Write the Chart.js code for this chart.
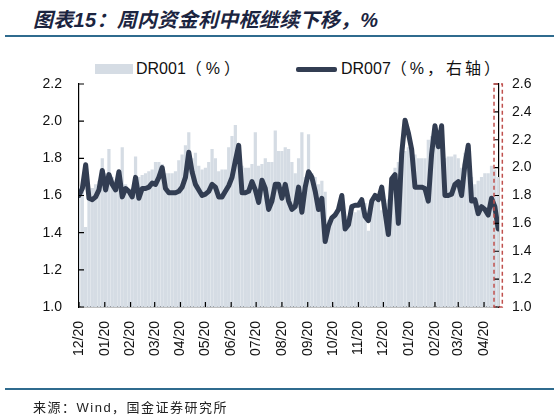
<!DOCTYPE html>
<html>
<head>
<meta charset="utf-8">
<script src="https://cdn.jsdelivr.net/npm/chart.js@4.4.0/dist/chart.umd.min.js"></script>
<style>
  body { margin: 0; width: 559px; height: 416px; background: #fff; position: relative; overflow: hidden;
         font-family: "Liberation Sans", "Noto Sans CJK SC", sans-serif; }
  #title { position: absolute; left: 33px; top: 4px; font: italic bold 20px "Liberation Sans", "Noto Sans CJK SC", sans-serif; color: #1b2440; white-space: nowrap; letter-spacing: 0.3px; }
  .rule { position: absolute; left: 5px; width: 549px; height: 2px; background: #2f6b8e; }
  .sw { position: absolute; }
  .lgtext { position: absolute; font-size: 16px; color: #111; white-space: nowrap; line-height: 18px; }
  .cjk { letter-spacing: 3px; }
  #source { position: absolute; left: 33px; top: 397px; font-size: 13px; color: #222; letter-spacing: 1.5px; white-space: nowrap; }
  #wrap { position: absolute; left: 0; top: 0; width: 559px; height: 416px; }
</style>
</head>
<body>
<div id="title">图表15：周内资金利中枢继续下移，%</div>
<div class="rule" style="top:35px"></div>

<div class="sw" style="left:95px;top:64px;width:38px;height:10px;background:#d5dce4"></div>
<div class="lgtext" style="left:136px;top:60px">DR001<span class="cjk" style="letter-spacing:4px">（%）</span></div>
<div class="sw" style="left:296px;top:67px;width:41px;height:5px;border-radius:2px;background:#323d52"></div>
<div class="lgtext" style="left:341px;top:60px">DR007<span class="cjk">（%，右轴）</span></div>

<div id="wrap"><canvas id="chart"></canvas></div>

<div class="rule" style="top:388px"></div>
<div id="source">来源：Wind，国金证券研究所</div>

<script>
// sampled every 4 calendar days starting 2019-12-20
var sampleStep = 4;
var dr001 = [1.65,1.62,1.43,1.62,1.64,1.66,1.68,1.80,1.72,1.85,
  1.70,1.68,1.72,1.86,1.66,1.63,1.64,1.81,1.70,1.71,
  1.72,1.73,1.74,1.78,1.78,1.77,1.72,1.72,1.72,1.73,
  1.79,1.82,1.87,1.94,1.80,1.83,1.76,1.74,1.75,1.78,
  1.85,1.80,1.73,1.74,1.74,1.86,1.92,1.98,1.79,1.76,
  1.75,1.75,1.77,1.94,1.76,1.77,1.80,1.78,1.78,1.95,
  1.84,1.84,1.86,1.85,1.78,1.72,1.80,1.94,1.70,1.93,
  1.72,1.70,1.66,1.68,1.62,1.47,1.48,1.51,1.52,1.55,
  1.46,1.49,1.50,1.51,1.52,1.57,1.56,1.41,1.57,1.59,
  1.60,1.52,1.56,1.58,1.60,1.75,1.78,1.81,1.84,1.86,
  1.85,1.82,1.80,1.80,1.80,1.90,1.92,1.88,1.95,1.90,
  1.80,1.81,1.81,1.82,1.80,1.75,1.83,1.85,1.70,1.66,
  1.68,1.70,1.72,1.72,1.76,1.74,1.70];
var dr007 = [1.80,1.85,2.02,1.78,1.77,1.79,1.84,1.98,1.84,1.95,
  1.88,1.84,1.97,1.79,1.85,1.83,1.79,1.93,1.78,1.85,
  1.85,1.86,1.89,1.88,1.93,2.00,1.85,1.82,1.82,1.82,
  1.83,1.86,1.93,2.11,1.97,1.88,1.84,1.80,1.81,1.83,
  1.88,1.86,1.79,1.79,1.83,1.87,1.93,2.05,2.16,1.82,
  1.82,1.83,1.90,1.84,1.75,1.91,1.85,1.70,1.76,1.88,
  1.88,1.78,1.88,1.76,1.70,1.72,1.86,1.68,1.86,1.97,
  1.93,1.83,1.70,1.78,1.47,1.58,1.64,1.66,1.70,1.80,
  1.56,1.59,1.72,1.73,1.73,1.77,1.65,1.62,1.76,1.80,
  1.77,1.86,1.68,1.52,1.92,1.95,1.60,2.10,2.34,2.25,
  2.13,1.86,1.86,1.86,1.85,1.76,2.10,2.30,2.15,2.30,
  1.80,1.80,1.81,1.88,1.90,1.80,2.02,2.16,1.76,1.77,
  1.67,1.72,1.70,1.66,1.78,1.72,1.56];

// x tick positions (days since 2019-12-20) and their labels
var tickDays = [0,31,62,91,122,152,183,213,244,275,305,336,366,397,428,456,487];
var tickLabels = ["12/20","01/20","02/20","03/20","04/20","05/20","06/20","07/20","08/20",
  "09/20","10/20","11/20","12/20","01/20","02/20","03/20","04/20"];
var lastDay = 505;
var highlightDays = [499, 509];

var days = dr001.map(function(v, i){ return i * sampleStep; });

// inner tick marks + red dashed box
var extras = {
  id: 'extras',
  afterDraw: function(chart){
    var ctx = chart.ctx, a = chart.chartArea;
    var sx = chart.scales.x, sy = chart.scales.y, sy1 = chart.scales.y1;
    ctx.save();
    ctx.strokeStyle = '#000';
    ctx.lineWidth = 1.2;
    ctx.beginPath();
    sy.ticks.forEach(function(t){ var p = sy.getPixelForValue(t.value); ctx.moveTo(a.left, p); ctx.lineTo(a.left + 5, p); });
    sy1.ticks.forEach(function(t){ var p = sy1.getPixelForValue(t.value); ctx.moveTo(a.right, p); ctx.lineTo(a.right - 5, p); });
    sx.ticks.forEach(function(t){ var p = sx.getPixelForValue(t.value); ctx.moveTo(p, a.bottom); ctx.lineTo(p, a.bottom - 5); });
    ctx.stroke();
    var l = sx.getPixelForValue(highlightDays[0]), r = sx.getPixelForValue(highlightDays[1]);
    ctx.setLineDash([4, 3]);
    ctx.strokeStyle = '#c0504d';
    ctx.lineWidth = 1.5;
    ctx.strokeRect(l, a.top, r - l, a.bottom - a.top);
    ctx.restore();
  }
};

var tickFont = {family: '"Liberation Sans", Arial, sans-serif', size: 14};

new Chart(document.getElementById('chart'), {
  type: 'bar',
  data: {
    datasets: [{
      type: 'line',
      label: 'DR007（%，右轴）',
      data: days.map(function(d, i){ return {x: d, y: dr007[i]}; }),
      yAxisID: 'y1',
      borderColor: '#323d52',
      borderWidth: 5,
      borderJoinStyle: 'round',
      borderCapStyle: 'round',
      pointRadius: 0,
      tension: 0,
      order: 0
    }, {
      type: 'bar',
      label: 'DR001（%）',
      data: days.map(function(d, i){ return {x: d, y: dr001[i]}; }),
      yAxisID: 'y',
      backgroundColor: '#d5dce4',
      barPercentage: 0.97,
      categoryPercentage: 1,
      order: 1
    }]
  },
  options: {
    responsive: true,
    maintainAspectRatio: false,
    animation: false,
    layout: {padding: {top: 84, left: 0, right: 0, bottom: 39}},
    plugins: {legend: {display: false}, tooltip: {enabled: false}},
    scales: {
      x: {
        type: 'linear',
        offset: false,
        min: 0,
        max: lastDay,
        grid: {display: false, drawTicks: false, offset: false},
        border: {display: true, color: '#000', width: 1.2},
        afterBuildTicks: function(scale){ scale.ticks = tickDays.map(function(v){ return {value: v}; }); },
        afterFit: function(scale){ scale.height = 70; },
        ticks: {
          autoSkip: false, minRotation: 90, maxRotation: 90, padding: 14,
          color: '#111', font: tickFont,
          callback: function(v){ var i = tickDays.indexOf(v); return i >= 0 ? tickLabels[i] : ''; }
        }
      },
      y: {
        position: 'left',
        min: 1.0, max: 2.2,
        grid: {display: false, drawTicks: false},
        border: {display: true, color: '#000', width: 1.2},
        afterFit: function(scale){ scale.width = 79; },
        ticks: {stepSize: 0.2, padding: 17, color: '#111', font: tickFont,
          callback: function(v){ return v.toFixed(1); }}
      },
      y1: {
        position: 'right',
        min: 1.0, max: 2.6,
        grid: {display: false, drawTicks: false},
        border: {display: true, color: '#000', width: 1.2},
        afterFit: function(scale){ scale.width = 60; },
        ticks: {stepSize: 0.2, padding: 13, color: '#111', font: tickFont,
          callback: function(v){ return v.toFixed(1); }}
      }
    }
  },
  plugins: [extras]
});
</script>
</body>
</html>
